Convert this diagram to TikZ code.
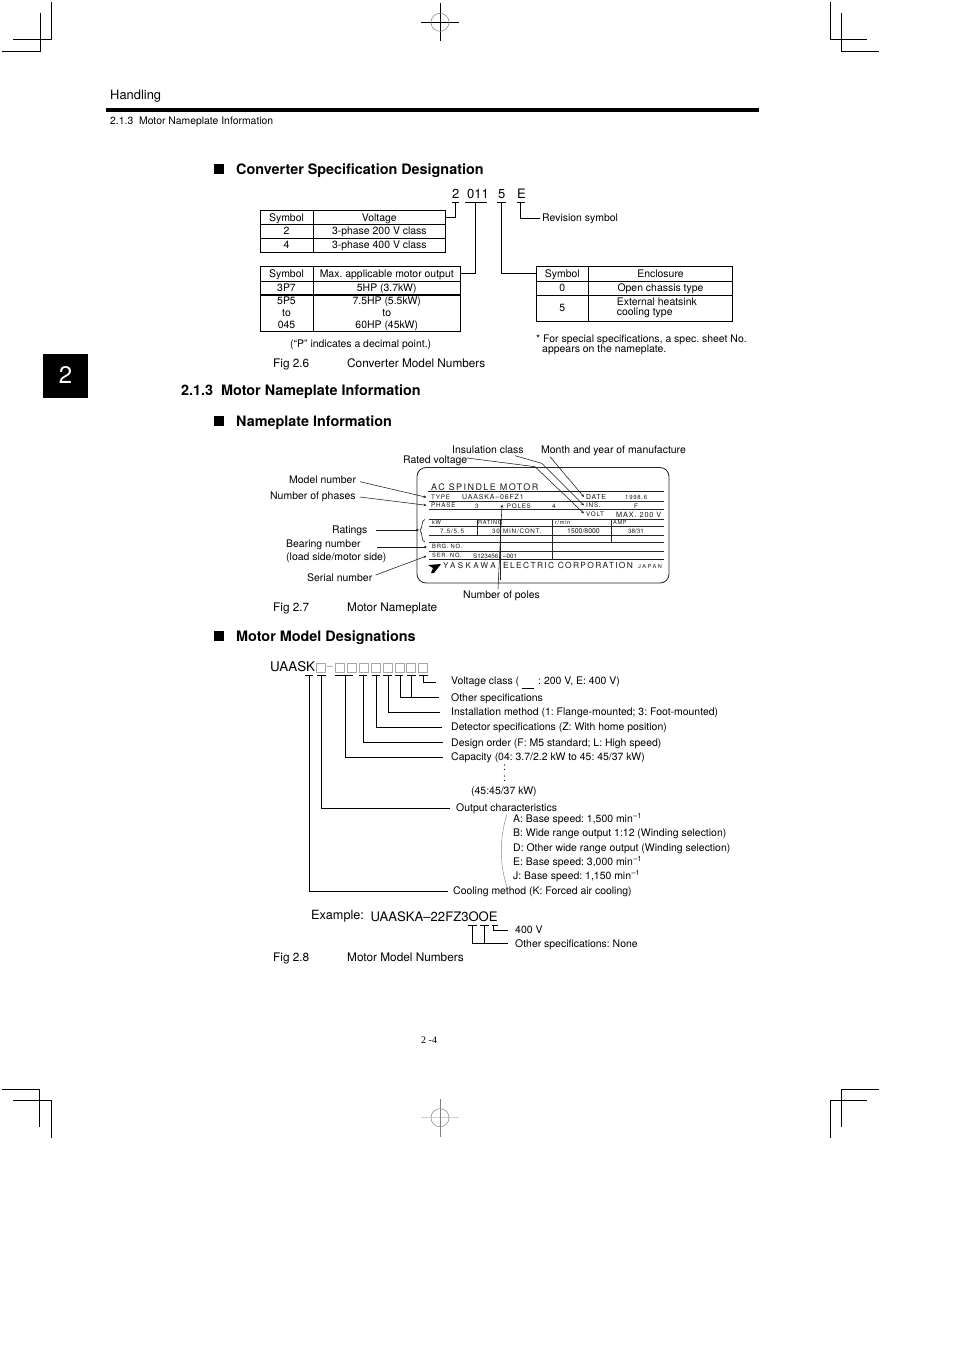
\documentclass[tikz,border=0pt]{standalone}
\usepackage{fontspec}
\setmainfont{TeX Gyre Heros}
\newfontfamily\platea[LetterSpace=16]{TeX Gyre Heros}
\newfontfamily\platec[LetterSpace=30]{TeX Gyre Heros}
\newfontfamily\plateb[LetterSpace=12]{TeX Gyre Heros}
\newfontfamily\pgnum{Liberation Serif}
\usetikzlibrary{arrows.meta}
\frenchspacing
\newcommand\fsz[1]{\fontsize{#1}{#1}\selectfont}
\newcommand\lab[5][lbl]{\node[#1] (#2) at (#3,#4) {#5};}
\newcommand\cell[6]{\pgfmathsetmacro\cw{#4-#2}\pgfmathsetmacro\ch{#5-#3}\node[cellbox,minimum width=\cw pt,minimum height=\ch pt] (#1) at ({(#2+#4)/2},{(#3+#5)/2}) {#6};}
\newcommand\sq[2]{\node[sqbox] (#1) at (#2,667.5) {};}
\newcommand\mins{min\textsuperscript{\kern.5pt–1}}
\newcommand\cs{\rule[-2.3pt]{0pt}{12pt}}
\newcommand\ct{\rule{0pt}{9.7pt}}
\newcommand\cb{\rule[-2.3pt]{0pt}{2.3pt}}
\tikzset{
  lbl/.style={anchor=base west,inner sep=0pt,font=\fsz{10.45}},
  big/.style={lbl,font=\fsz{13}},
  hd/.style={lbl,font=\bfseries\fsz{14.38}},
  cellbox/.style={draw=black,line width=.8pt,inner sep=0pt,font=\fsz{10.45},align=center},
  cross/.style={line width=.8pt},
  mark1/.style={line width=.9pt,black},
  conn/.style={line width=.95pt,black},
  lead/.style={line width=.55pt,black!90},
  leadarr/.style={lead,-{Stealth[length=3pt,width=2.6pt]}},
  bullet/.style={fill=black,inner sep=0pt,minimum size=9.6pt},
  sqbox/.style={draw=black!35,line width=.8pt,inner sep=0pt,minimum width=9pt,minimum height=9pt},
  pline/.style={line width=.6pt,black!85},
  pl/.style={anchor=base west,inner sep=0pt,black!90},
}
\begin{document}
\begin{tikzpicture}[x=1pt,y=-1pt]
\useasboundingbox[fill=white] (0,0) rectangle (954,1351);
% crop marks
\draw[mark1] (51.7,2) |- (13,39.5);
\draw[mark1] (40.3,13) |- (2,51.5);
\draw[mark1] (830,2) |- (867,39.5);
\draw[mark1] (841,13) |- (879,51.5);
\draw[mark1] (2,1089.5) -| (39.5,1127);
\draw[mark1] (13,1100.5) -| (51.7,1138);
\draw[mark1] (867,1100.5) -| (830,1138);
\draw[mark1] (879,1089.5) -| (841,1127);
\draw[cross] (421,22.3) -- (459,22.3) (440,3) -- (440,41);
\draw[line width=.5pt,black!50] (440,22.3) circle (9);
\draw[line width=.9pt,black!18] (421,1117.7) -- (459,1117.7);
\draw[line width=.6pt,black!50] (440,1099) -- (440,1137);
\draw[line width=.5pt,black!50] (440,1117.7) circle (9);
% header
\lab{handling}{110}{99.3}{\fsz{12.9}Handling}
\fill[black] (106,107.7) rectangle (759,111.7);
\lab{secline}{110}{124.2}{\fsz{10.4}2.1.3\ \ Motor Nameplate Information}
% tab
\node[fill=black,text=white,minimum width=45pt,minimum height=44pt,inner sep=0pt,font=\fsz{24}] (tab) at (65.5,376) {\raisebox{3pt}{2}};
% headings
\node[bullet] (b1) at (219,169) {};
\lab[hd]{h1}{236}{174.5}{Converter Specification Designation}
\lab[hd]{h2}{181}{395}{2.1.3\ \ Motor Nameplate Information}
\node[bullet] (b2) at (219,421) {};
\lab[hd]{h3}{236}{426}{Nameplate Information}
\node[bullet] (b3) at (219,636) {};
\lab[hd]{h4}{236}{641}{Motor Model Designations}
% code
\lab[big]{c2}{452}{198}{2}
\lab[big]{c011}{467}{198}{011}
\lab[big]{c5}{498}{198}{5}
\lab[big]{cE}{517}{198}{E}
% tables
\cell{ta1}{260}{210.7}{313}{224}{\cs Symbol}
\cell{ta2}{313}{210.7}{445.7}{224}{\cs Voltage}
\cell{ta3}{260}{224}{313}{238}{\cs 2}
\cell{ta4}{313}{224}{445.7}{238}{\cs 3-phase 200 V class}
\cell{ta5}{260}{238}{313}{252}{\cs 4}
\cell{ta6}{313}{238}{445.7}{252}{\cs 3-phase 400 V class}
\cell{tb1}{260}{266.7}{313}{281}{\cs Symbol}
\cell{tb2}{313}{266.7}{460.5}{281}{\cs Max. applicable motor output}
\cell{tb3}{260}{281}{313}{295}{\cs 3P7}
\cell{tb4}{313}{281}{460.5}{295}{\cs 5HP (3.7kW)}
\cell{tb5}{260}{295}{313}{330.7}{\ct 5P5\\[1.6pt]to\\[1.6pt]045\cb}
\cell{tb6}{313}{295}{460.5}{330.7}{\ct 7.5HP (5.5kW)\\[1.6pt]to\\[1.6pt]60HP (45kW)\cb}
\cell{tc1}{536.3}{266.7}{588.3}{281}{\cs Symbol}
\cell{tc2}{588.3}{266.7}{732.7}{281}{\cs Enclosure}
\cell{tc3}{536.3}{281}{588.3}{295}{\cs 0}
\cell{tc4}{588.3}{281}{732.7}{295}{\cs Open chassis type}
\cell{tc5}{536.3}{295}{588.3}{321.3}{\cs 5}
\cell{tc6}{588.3}{295}{732.7}{321.3}{}
\lab{tc6a}{616.6}{305}{External heatsink}
\lab{tc6b}{616.6}{315.2}{cooling type}
% code connectors
\coordinate (u2a) at (452,202.3); \coordinate (u2b) at (458.5,202.3); \coordinate (u2) at (455.7,202.3);
\coordinate (u11a) at (465,202.3); \coordinate (u11b) at (487,202.3); \coordinate (u11) at (475.7,202.3);
\coordinate (u5a) at (497,202.3); \coordinate (u5b) at (505.7,202.3); \coordinate (u5) at (501.7,202.3);
\coordinate (uEa) at (516.7,202.3); \coordinate (uEb) at (525,202.3); \coordinate (uE) at (520.7,202.3);
\draw[conn] (u2a) -- (u2b) (u11a) -- (u11b) (u5a) -- (u5b) (uEa) -- (uEb);
\draw[conn] (u2) |- (ta2.east);
\draw[conn] (u11) |- (tb2.east);
\draw[conn] (u5) |- (tc1.west);
\lab{rev}{542}{222}{Revision symbol}
\coordinate (revend) at (540,218.5);
\draw[conn] (uE) |- (revend);
\lab{note1}{536}{342.5}{* For special specifications, a spec. sheet No.}
\lab{note2}{542}{352.3}{appears on the nameplate.}
\lab{pnote}{290}{347}{(“P” indicates a decimal point.)}
\lab{f6}{273}{367}{\fsz{11.8}Fig 2.6}
\lab{f6t}{347}{367}{\fsz{11.8}Converter Model Numbers}
% nameplate
\draw[line width=.85pt,black!85,rounded corners=9pt] (417,467.5) -- (669,467.5) -- (669,583) -- (417,583) -- cycle;
\draw[line width=1pt,black!90] (428,491.5) -- (664,491.5);
\draw[pline] (429,501) -- (664,501) (429,509.3) -- (664,509.3);
\draw[pline] (429,519.3) -- (664,519.3) (429,526) -- (664,526) (429,535) -- (664,535) (429,542.7) -- (664,542.7) (429,551) -- (664,551);
\draw[line width=.8pt,black!90] (429,559.5) -- (664,559.5);
\draw[pline] (477.7,519.3) -- (477.7,535) (552,519.3) -- (552,560) (611,519.3) -- (611,543) (500,519.3) -- (500,543);
\node[pl,font=\platea\fsz{9}] (pt) at (431,490.5) {AC SPINDLE MOTOR};
\node[pl,font=\plateb\fsz{6.3}] (pa) at (431,499.5) {TYPE};
\node[pl,font=\plateb\fsz{7}] (pb) at (462,499.8) {UAASKA–06FZ1};
\node[pl,font=\plateb\fsz{6.3}] (pc) at (431,507.5) {PHASE};
\node[pl,font=\plateb\fsz{6.3}] (pd) at (475,508.5) {3};
\node[pl,font=\plateb\fsz{6.3}] (pe) at (506.7,508) {POLES};
\node[pl,font=\plateb\fsz{6.3}] (pf) at (552,508.5) {4};
\node[pl,font=\plateb\fsz{6.8}] (pg) at (586,499) {DATE};
\node[pl,font=\plateb\fsz{6}] (ph) at (625,499.5) {1998.6};
\node[pl,font=\plateb\fsz{6.3}] (pi) at (586,507.5) {INS.};
\node[pl,font=\plateb\fsz{6.3}] (pj) at (634,508.5) {F};
\node[pl,font=\plateb\fsz{6.3}] (pk) at (586,516) {VOLT};
\node[pl,font=\plateb\fsz{7.3}] (pl1) at (616,517) {MAX. 200 V};
\node[pl,font=\plateb\fsz{5.6}] (pm) at (432,524.5) {kW};
\node[pl,font=\plateb\fsz{5.6}] (pn) at (478,524.5) {RATING};
\node[pl,font=\plateb\fsz{5.6}] (po) at (555,524) {r/min};
\node[pl,font=\plateb\fsz{5.6}] (pp) at (613,524) {AMP};
\node[pl,font=\plateb\fsz{6.3}] (pq) at (440,533.5) {7.5/5.5};
\node[pl,font=\plateb\fsz{6.3}] (pr) at (492,533.5) {30};
\node[pl,font=\plateb\fsz{6.3}] (ps) at (503,533.5) {MIN/CONT.};
\node[pl,font=\fsz{6.9}] (pt1) at (567,533) {1500/8000};
\node[pl,font=\fsz{6.3}] (pu) at (628,533) {38/31};
\node[pl,font=\plateb\fsz{5.8}] (pv) at (432,548.5) {BRG. NO.};
\node[pl,font=\plateb\fsz{5.8}] (pw) at (432,557) {SER. NO.};
\node[pl,font=\fsz{6.3}] (px) at (473,558.5) {S123456};
\node[pl,font=\fsz{6.3}] (py) at (503,558.5) {–001};
\node[pl,font=\platec\fsz{8}] (pz) at (443,568.3) {YASKAWA};
\node[pl,font=\platea\fsz{8.4}] (pza) at (503,568.3) {ELECTRIC CORPORATION};
\node[pl,font=\platec\fsz{5.5}] (pzb) at (638,568.3) {JAPAN};
\draw[pline] (500,543) -- (500,580) ;
\fill[black] (428,565) -- (441,564) -- (434,573) -- (431,573) -- (433,568) -- cycle;
% brace
\draw[lead,line width=.6pt] (425,519.5) .. controls (421,519.5) and (423,528) .. (420,530.5) .. controls (423,533) and (421,542) .. (425,542);
% nameplate leaders
\lab{lmod}{289}{483.5}{Model number}
\lab{lph}{270}{499.5}{Number of phases}
\lab{lrat}{332}{533.5}{Ratings}
\lab{lbr}{286}{547.5}{Bearing number}
\lab{lbr2}{286}{560.5}{(load side/motor side)}
\lab{lser}{307}{581.5}{Serial number}
\lab{lrv}{403}{463.5}{Rated voltage}
\lab{lins}{452}{453.5}{Insulation class}
\lab{lmon}{541}{453.5}{Month and year of manufacture}
\lab{lpol}{463}{598.5}{Number of poles}
\coordinate (a1) at (360,481.7); \coordinate (a1e) at (426.5,497.3);
\coordinate (a2) at (360,497); \coordinate (a2e) at (426.5,505.3);
\coordinate (a3) at (376,530); \coordinate (a3e) at (419,530);
\coordinate (a4) at (377,547); \coordinate (a4e) at (427,547);
\coordinate (a5) at (375.7,575); \coordinate (a5e) at (426.5,556);
\coordinate (a6) at (467,458); \coordinate (a6m) at (535,466.7); \coordinate (a6e) at (584,513.5);
\coordinate (a7) at (515,455.7); \coordinate (a7m) at (541.7,463.3); \coordinate (a7e) at (584,505.5);
\coordinate (a8) at (550,456.7); \coordinate (a8e) at (584,497);
\coordinate (a9) at (498,589); \coordinate (a9e) at (502,504.5);
\draw[leadarr] (a1) -- (a1e);
\draw[leadarr] (a2) -- (a2e);
\draw[leadarr] (a3) -- (a3e);
\draw[leadarr] (a4) -- (a4e);
\draw[leadarr] (a5) -- (a5e);
\draw[leadarr] (a6) -- (a6m) -- (a6e);
\draw[leadarr] (a7) -- (a7m) -- (a7e);
\draw[leadarr] (a8) -- (a8e);
\draw[leadarr] (a9) -- (a9e);
\lab{f7}{273}{611}{\fsz{11.8}Fig 2.7}
\lab{f7t}{347}{611}{\fsz{11.8}Motor Nameplate}
% motor model
\lab[big]{uaask}{270}{671.5}{\fsz{13.4}UAASK}
\sq{s0}{321.3}
\node[inner sep=0pt,black!50,font=\fsz{10}] (dsh) at (330,667.5) {–};
\sq{s1}{339.7}\sq{s2}{351.7}\sq{s3}{363.7}\sq{s4}{376}\sq{s5}{387.7}\sq{s6}{399.5}\sq{s7}{411.2}\sq{s8}{423.3}
\lab{t1}{451}{684.5}{Voltage class (}
\draw[line width=.8pt,black] (522,688) -- (534,688);
\lab{t1b}{538}{684.5}{: 200 V, E: 400 V)}
\lab{t2}{451}{701.5}{Other specifications}
\lab{t3}{451}{715.5}{Installation method (1: Flange-mounted; 3: Foot-mounted)}
\lab{t4}{451}{730.5}{Detector specifications (Z: With home position)}
\lab{t5}{451}{746}{Design order (F: M5 standard; L: High speed)}
\lab{t6}{451}{760.5}{Capacity (04: 3.7/2.2 kW to 45: 45/37 kW)}
\lab{d1}{503}{770}{:}
\lab{d2}{503}{781}{:}
\lab{t7}{471}{794.5}{(45:45/37 kW)}
\lab{t8}{456}{811.5}{Output characteristics}
\lab{ta}{513}{822.5}{A: Base speed: 1,500 \mins}
\lab{tbb}{513}{836.5}{B: Wide range output 1:12 (Winding selection)}
\lab{tdd}{513}{851}{D: Other wide range output (Winding selection)}
\lab{tee}{513}{865}{E: Base speed: 3,000 \mins}
\lab{tjj}{513}{879}{J: Base speed: 1,150 \mins}
\lab{t9}{453}{894.5}{Cooling method (K: Forced air cooling)}
\draw[line width=.5pt,black!45] (506.7,815) .. controls (499.5,838) and (499.5,865) .. (507,886.7);
% underlines
\foreach \a/\b in {305/313.3,317.3/325.7,335/353.3,359.3/367.3,371.7/380,383.3/391.7,395/403.3,406.7/415.7,419/427.7}
  {\draw[conn] (\a,675) -- (\b,675);}
\coordinate (v1) at (423.3,675); \coordinate (e1) at (435.7,682.7);
\coordinate (v2) at (400,675); \coordinate (v2b) at (411.7,675); \coordinate (e2) at (439,697.3);
\coordinate (v3) at (388,675); \coordinate (e3) at (440,712);
\coordinate (v4) at (376,675); \coordinate (e4) at (442.3,727.3);
\coordinate (v5) at (363.7,675); \coordinate (e5) at (443,742.3);
\coordinate (v6) at (345,675); \coordinate (e6) at (443,757.3);
\coordinate (v7) at (321.5,675); \coordinate (e7) at (450,808.7);
\coordinate (v8) at (309,675); \coordinate (e8) at (447.7,891.5);
\draw[conn] (v1) |- (e1);
\draw[conn] (v2) |- (e2);
\draw[conn] (v2b) -- (v2b |- e2);
\draw[conn] (v3) |- (e3);
\draw[conn] (v4) |- (e4);
\draw[conn] (v5) |- (e5);
\draw[conn] (v6) |- (e6);
\draw[conn] (v7) |- (e7);
\draw[conn] (v8) |- (e8);
% example
\lab[big]{ex}{311}{919}{\fsz{12.7}Example:}
\lab[big]{exc}{370.5}{921}{\fsz{13.1}UAASKA–22FZ3OOE}
\foreach \a/\b in {468.3/476.7,480/488.7,491.7/498}{\draw[conn] (\a,925.7) -- (\b,925.7);}
\lab{ex1}{515}{933.5}{400 V}
\lab{ex2}{515}{947.5}{Other specifications: None}
\coordinate (x1) at (472.7,925.7); \coordinate (x2) at (484.3,925.7); \coordinate (x3) at (493.3,925.7);
\coordinate (y1) at (508.3,930); \coordinate (y2) at (508.3,943.3);
\draw[conn] (x3) |- (y1);
\draw[conn] (x1) |- (y2);
\draw[conn] (x2) -- (x2 |- y2);
\lab{f8}{273}{961}{\fsz{11.8}Fig 2.8}
\lab{f8t}{347}{961}{\fsz{11.8}Motor Model Numbers}
\node[anchor=base west,inner sep=0pt,font=\pgnum\fsz{10}] (pgn) at (421,1043) {2 -4};
\end{tikzpicture}
\end{document}
